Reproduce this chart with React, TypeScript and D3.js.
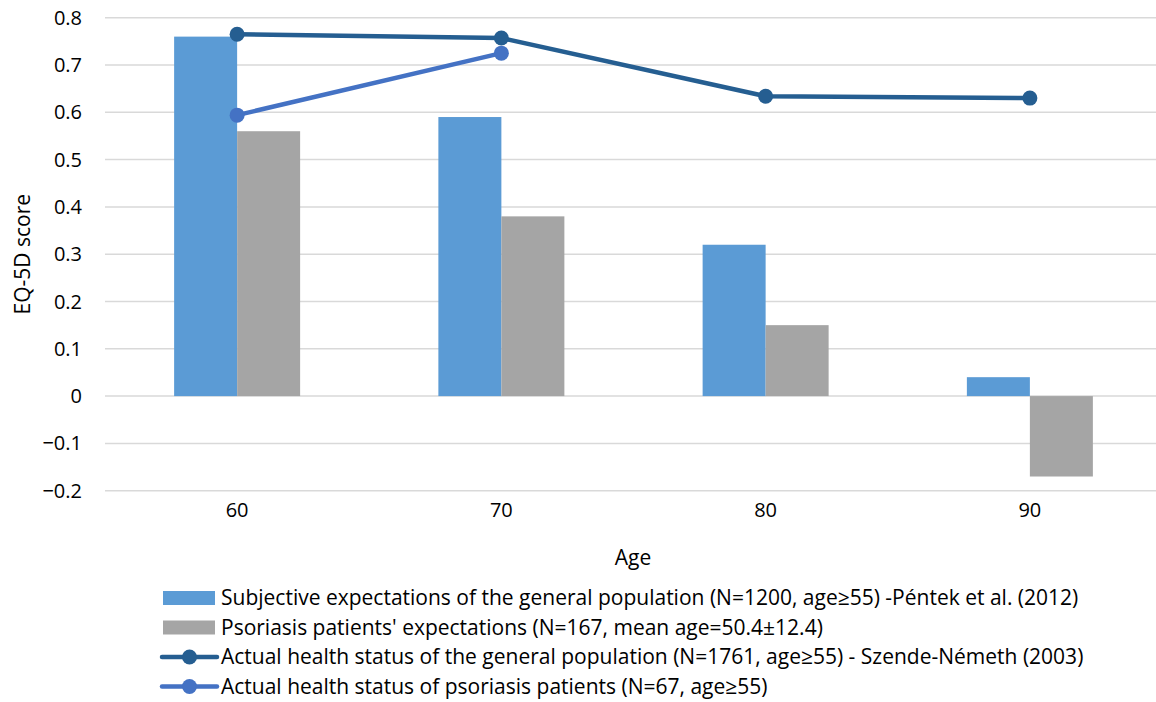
import React from "react";
import * as d3 from "d3";

const ages = ["60", "70", "80", "90"];
const subjectiveGeneral = [0.76, 0.59, 0.32, 0.04];
const psoriasisExpect = [0.56, 0.38, 0.15, -0.17];
const actualGeneral = [0.765, 0.757, 0.634, 0.63];
const actualPsoriasis = [0.594, 0.725];
const yTicks = [-0.2, -0.1, 0, 0.1, 0.2, 0.3, 0.4, 0.5, 0.6, 0.7, 0.8];

const legendLabels = [
  "Subjective expectations of the general population (N=1200, age\u226555) -P\u00e9ntek et al. (2012)",
  "Psoriasis patients' expectations (N=167, mean age=50.4\u00b112.4)",
  "Actual health status of the general population (N=1761, age\u226555) - Szende-N\u00e9meth (2003)",
  "Actual health status of psoriasis patients (N=67, age\u226555)",
];

const W = 1156;
const H = 702;
const FONT = "'Open Sans', Lato, sans-serif";
const C_BLUE = "#5B9BD5";
const C_GRAY = "#A5A5A5";
const C_DARK = "#255E91";
const C_LIGHT = "#4472C4";

export default function App() {
  const x = d3.scaleBand<string>().domain(ages).range([105, 1162]);
  const y = d3.scaleLinear().domain([-0.2, 0.8]).range([490.7, 17.7]);
  const step = x.step();
  const barW = 63;
  const cx = (a: string) => (x(a) as number) + step / 2;
  const line = d3
    .line<number>()
    .x((_, i) => cx(ages[i]))
    .y((d) => y(d));

  const legendY = [598, 627.5, 657, 686.5];

  return (
    <svg
      width={W}
      height={H}
      style={{ position: "absolute", left: 0, top: 0, background: "#fff" }}
      fontFamily={FONT}
    >
      {yTicks.map((t) => (
        <g key={t}>
          <line x1={105} x2={W} y1={y(t)} y2={y(t)} stroke="#D9D9D9" strokeWidth={1.5} />
          <text x={82} y={y(t)} dy="0.35em" textAnchor="end" fontSize={20} fill="#000">
            {t === 0 ? "0" : d3.format(".1f")(t)}
          </text>
        </g>
      ))}
      {ages.map((a, i) => (
        <g key={a}>
          <rect
            x={cx(a) - barW}
            width={barW}
            y={y(Math.max(0, subjectiveGeneral[i]))}
            height={Math.abs(y(subjectiveGeneral[i]) - y(0))}
            fill={C_BLUE}
          />
          <rect
            x={cx(a)}
            width={barW}
            y={y(Math.max(0, psoriasisExpect[i]))}
            height={Math.abs(y(psoriasisExpect[i]) - y(0))}
            fill={C_GRAY}
          />
          <text x={cx(a)} y={510} dy="0.35em" textAnchor="middle" fontSize={20}>
            {a}
          </text>
        </g>
      ))}
      <path d={line(actualGeneral) || ""} fill="none" stroke={C_DARK} strokeWidth={4.5} strokeLinejoin="round" />
      {actualGeneral.map((v, i) => (
        <circle key={i} cx={cx(ages[i])} cy={y(v)} r={7.5} fill={C_DARK} />
      ))}
      <path d={line(actualPsoriasis) || ""} fill="none" stroke={C_LIGHT} strokeWidth={4.5} strokeLinejoin="round" />
      {actualPsoriasis.map((v, i) => (
        <circle key={i} cx={cx(ages[i])} cy={y(v)} r={7.5} fill={C_LIGHT} />
      ))}
      <text
        transform={`translate(23, ${(y(0.8) + y(-0.2)) / 2}) rotate(-90)`}
        textAnchor="middle"
        dy="0.35em"
        fontSize={21}
      >
        EQ-5D score
      </text>
      <text x={633} y={558} dy="0.35em" textAnchor="middle" fontSize={21}>
        Age
      </text>
      {legendLabels.map((lab, i) => (
        <g key={i}>
          {i < 2 ? (
            <rect x={163} y={legendY[i] - 7} width={52} height={14} fill={i === 0 ? C_BLUE : C_GRAY} />
          ) : (
            <g>
              <line x1={162} x2={217} y1={legendY[i]} y2={legendY[i]} stroke={i === 2 ? C_DARK : C_LIGHT} strokeWidth={4.5} strokeLinecap="round" />
              <circle cx={189.5} cy={legendY[i]} r={7.5} fill={i === 2 ? C_DARK : C_LIGHT} />
            </g>
          )}
          <text x={221} y={legendY[i]} dy="0.35em" fontSize={21}>
            {lab}
          </text>
        </g>
      ))}
    </svg>
  );
}
